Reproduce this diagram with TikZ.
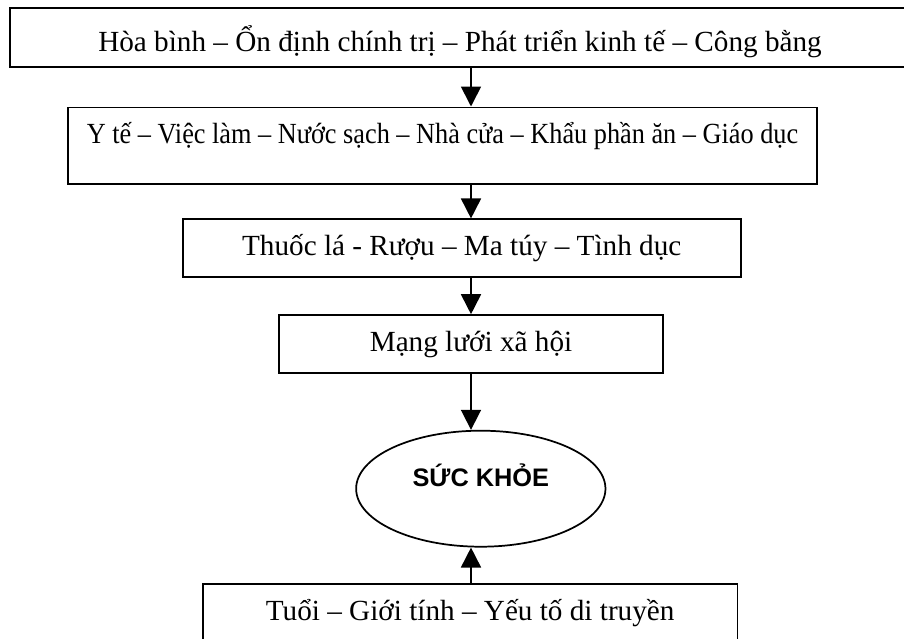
\documentclass[tikz,border=0pt]{standalone}
\usepackage{fontspec}
\setmainfont{Liberation Serif}
\newfontfamily\arialbd{Liberation Sans}
\usetikzlibrary{arrows.meta,shapes.geometric}

\tikzset{
  khung/.style={draw, line width=1.3pt, rectangle, inner sep=0pt,
    font=\fontsize{21.9}{26}\selectfont},
  arr/.style={line width=1.3pt, -{Triangle[length=15pt,width=15pt]}}
}

\begin{document}
\begin{tikzpicture}[x=0.75pt,y=-0.75pt]
  \useasboundingbox (0,0) rectangle (904,639);

  % cac khung
  \node[khung, minimum width=675pt, minimum height=43.8pt, text height=26pt, text depth=5pt]
    (hoabinh) at (460,37.5)
    {Hòa bình – Ổn định chính trị – Phát triển kinh tế – Công bằng};
  \node[khung, minimum width=562pt, minimum height=57.5pt, text height=16pt, text depth=19.6pt]
    (yte) at (442.5,145.7)
    {\scalebox{0.9}[1]{Y tế – Việc làm – Nước sạch – Nhà cửa – Khẩu phần ăn – Giáo dục}};
  \node[khung, minimum width=418.5pt, minimum height=43.5pt] (thuocla) at (461.7,248.3)
    {Thuốc lá - Rượu – Ma túy – Tình dục};
  \node[khung, minimum width=288pt, minimum height=43.7pt] (mangluoi) at (471,344.2)
    {Mạng lưới xã hội};
  \node[draw, ellipse, line width=1.3pt, inner sep=0pt, minimum width=187pt, minimum height=87pt,
    text height=14pt, text depth=17pt,
    font=\arialbd\bfseries\fontsize{19}{22}\selectfont] (suckhoe) at (480.8,488.7) {SỨC KHỎE};
  \node[khung, minimum width=401pt, minimum height=43.5pt] (tuoi) at (470.2,613)
    {Tuổi – Giới tính – Yếu tố di truyền};

  % mui ten
  \draw[arr] (hoabinh.south -| mangluoi) -- (yte.north -| mangluoi);
  \draw[arr] (yte.south -| mangluoi) -- (thuocla.north -| mangluoi);
  \draw[arr] (thuocla.south -| mangluoi) -- (mangluoi.north);
  \draw[arr] (mangluoi.south) -- (mangluoi.south |- suckhoe.north);
  \draw[arr] (tuoi.north -| mangluoi) -- (mangluoi.south |- suckhoe.south);
\end{tikzpicture}
\end{document}
